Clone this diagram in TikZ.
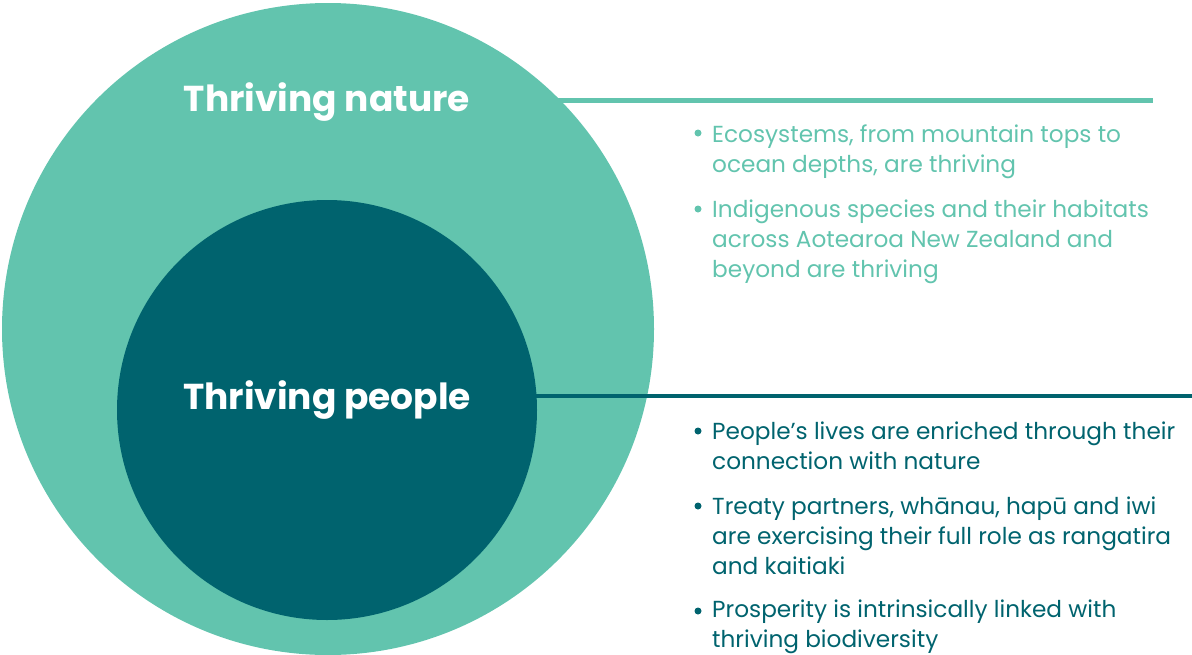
\documentclass[tikz,border=0pt]{standalone}
\usepackage{fontspec}
\setmainfont{Poppins}
\definecolor{natgreen}{HTML}{62C4AE}
\definecolor{peopteal}{HTML}{00636E}
\begin{document}
\begin{tikzpicture}[x=1pt,y=-1pt,
  title/.style={text=white,font=\fontsize{36}{40}\selectfont\bfseries,anchor=base,inner sep=0pt},
  item/.style={anchor=base west,inner sep=0pt,align=left,font=\fontsize{23.2}{30}\selectfont},
  dot/.style={circle,inner sep=0pt,minimum size=7pt}]
\useasboundingbox (0,0) rectangle (1192,654);
\node[circle,fill=natgreen,inner sep=0pt,minimum size=652pt] (outer) at (328,329) {};
\node[circle,fill=peopteal,inner sep=0pt,minimum size=420pt] (inner) at (327,410) {};
\coordinate (natend) at (1153,100.5);
\coordinate (natstart) at (540,100.5);
\coordinate (peopstart) at (530,396);
\coordinate (peopend) at (1192,396);
\draw[natgreen,line width=5.5pt] (natstart) -- (natend);
\draw[peopteal,line width=4.5pt] (peopstart) -- (peopend);
\node[title] (tnat) at (327,111) {Thriving nature};
\node[title] (tpeop) at (327,409) {Thriving people};
% nature items
\node[dot,fill=natgreen] (b1) at (698,133) {};
\node[item,text=natgreen] (i1) at (712,172) {Ecosystems, from mountain tops to\\ocean depths, are thriving};
\node[dot,fill=natgreen] (b2) at (698,209) {};
\node[item,text=natgreen] (i2) at (712,277) {Indigenous species and their habitats\\across Aotearoa New Zealand and\\beyond are thriving};
% people items
\node[dot,fill=peopteal] (b3) at (698,431) {};
\node[item,text=peopteal] (i3) at (712,469) {People’s lives are enriched through their\\connection with nature};
\node[dot,fill=peopteal] (b4) at (698,506) {};
\node[item,text=peopteal] (i4) at (712,574) {Treaty partners, whānau, hapū and iwi\\are exercising their full role as rangatira\\and kaitiaki};
\node[dot,fill=peopteal] (b5) at (698,611) {};
\node[item,text=peopteal] (i5) at (712,647) {Prosperity is intrinsically linked with\\thriving biodiversity};
\end{tikzpicture}
\end{document}
